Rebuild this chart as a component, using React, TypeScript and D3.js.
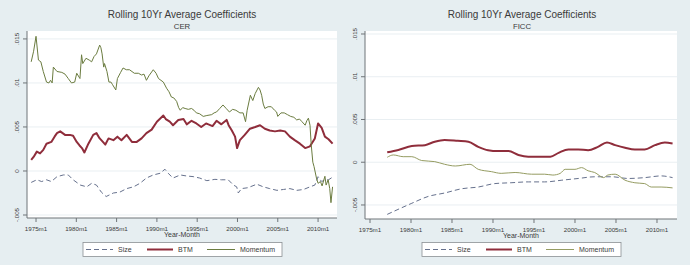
import React from "react";
import * as d3 from "d3";

// ---- shared axis labels ----
const xTickYears = [1975, 1980, 1985, 1990, 1995, 2000, 2005, 2010];
const xTickLabels = ["1975m1", "1980m1", "1985m1", "1990m1", "1995m1", "2000m1", "2005m1", "2010m1"];
const yTickValues = [-0.005, 0, 0.005, 0.01, 0.015];
const yTickLabels = ["-.005", "0", ".005", ".01", ".015"];
const seriesNames = ["Size", "BTM", "Momentum"];
const chartTitle = "Rolling 10Yr Average Coefficients";
const panelNames = ["CER", "FICC"];
const xAxisTitle = "Year-Month";

// ---- CER panel (decimal year, coefficient) ----
const cerSizeDates = [1974.4, 1975.1, 1975.7, 1976.3, 1976.9, 1977.6, 1978.4, 1979.0, 1979.6, 1980.5, 1981.3, 1981.9, 1982.5, 1983.1, 1983.7, 1984.6, 1985.4, 1986.25, 1987.1, 1987.9, 1988.7, 1989.55, 1990.4, 1991.0, 1991.4, 1992.0, 1992.9, 1993.7, 1994.5, 1995.3, 1996.2, 1997.2, 1998.0, 1998.85, 1999.5, 1999.9, 2000.1, 2000.5, 2001.3, 2002.4, 2003.2, 2004.0, 2004.9, 2005.7, 2006.5, 2007.35, 2008.2, 2009.0, 2009.6, 2010.0, 2010.45, 2010.85, 2011.3, 2011.8];
const cerSizeValues = [-0.0013, -0.001, -0.0012, -0.001, -0.0012, -0.00065, -0.00045, -0.00045, -0.001, -0.0016, -0.0018, -0.0014, -0.0016, -0.0024, -0.0029, -0.0025, -0.0024, -0.002, -0.0018, -0.0014, -0.0008, -0.00045, -0.00026, 0.0002, -0.00026, -0.0008, -0.00045, -0.00057, -0.00064, -0.0008, -0.0011, -0.00095, -0.001, -0.001, -0.0016, -0.0018, -0.0025, -0.002, -0.0019, -0.0015, -0.0018, -0.002, -0.0022, -0.0021, -0.002, -0.0022, -0.0021, -0.0018, -0.0016, -0.00065, -0.0012, -0.001, -0.001, -0.0007];

const cerBtmDates = [1974.4, 1974.7, 1975.1, 1975.5, 1975.9, 1976.3, 1976.9, 1977.3, 1977.6, 1978.0, 1978.6, 1979.2, 1979.6, 1980.05, 1980.4, 1980.7, 1981.0, 1981.5, 1982.1, 1982.5, 1982.9, 1983.3, 1983.6, 1984.0, 1984.6, 1985.1, 1985.6, 1986.25, 1986.9, 1987.5, 1988.1, 1988.7, 1989.35, 1990.0, 1990.8, 1991.1, 1991.6, 1992.0, 1992.65, 1993.3, 1993.7, 1994.3, 1994.9, 1995.5, 1996.1, 1996.9, 1997.4, 1998.0, 1998.65, 1998.9, 1999.3, 1999.7, 1999.95, 2000.3, 2000.9, 2001.55, 2002.2, 2002.8, 2003.4, 2004.0, 2004.65, 2005.3, 2005.9, 2006.5, 2007.1, 2007.75, 2008.4, 2009.0, 2009.6, 2010.0, 2010.45, 2010.85, 2011.3, 2011.8];
const cerBtmValues = [0.00125, 0.0016, 0.0022, 0.002, 0.0024, 0.0031, 0.0033, 0.0039, 0.0043, 0.0045, 0.0041, 0.0041, 0.004, 0.0033, 0.0029, 0.0026, 0.0021, 0.0031, 0.0041, 0.0043, 0.0037, 0.0033, 0.003, 0.0037, 0.0035, 0.0039, 0.0035, 0.0041, 0.0033, 0.0033, 0.0037, 0.0043, 0.0047, 0.0056, 0.0063, 0.0059, 0.0056, 0.0052, 0.0058, 0.0059, 0.0053, 0.0057, 0.0054, 0.005, 0.0054, 0.0051, 0.0057, 0.0053, 0.0058, 0.0052, 0.0046, 0.0039, 0.0026, 0.0035, 0.0041, 0.0048, 0.005, 0.0052, 0.0048, 0.0046, 0.0045, 0.0046, 0.0045, 0.0039, 0.0035, 0.0031, 0.0026, 0.0028, 0.0037, 0.0054, 0.0049, 0.0039, 0.0036, 0.0031];

const cerMomDates = [1974.4, 1974.7, 1975.0, 1975.3, 1975.6, 1975.9, 1976.3, 1976.6, 1976.8, 1977.0, 1977.15, 1977.6, 1978.2, 1978.6, 1979.0, 1979.4, 1979.8, 1980.05, 1980.45, 1980.65, 1980.8, 1981.2, 1981.6, 1981.9, 1982.2, 1982.5, 1982.9, 1983.05, 1983.2, 1983.4, 1983.5, 1983.8, 1984.05, 1984.3, 1984.5, 1984.9, 1985.1, 1985.5, 1985.8, 1986.2, 1986.6, 1987.2, 1987.7, 1988.1, 1988.4, 1988.7, 1989.0, 1989.55, 1989.9, 1990.2, 1990.8, 1991.2, 1991.5, 1991.8, 1992.1, 1992.45, 1992.7, 1992.9, 1993.2, 1993.5, 1993.9, 1994.3, 1994.6, 1994.9, 1995.3, 1995.75, 1996.2, 1996.8, 1997.1, 1997.4, 1997.8, 1998.2, 1998.6, 1999.0, 1999.4, 1999.8, 2000.3, 2000.7, 2001.0, 2001.2, 2001.6, 2001.9, 2002.2, 2002.6, 2002.8, 2003.0, 2003.2, 2003.4, 2003.8, 2004.2, 2004.6, 2004.85, 2005.0, 2005.4, 2005.8, 2006.2, 2006.6, 2007.0, 2007.35, 2007.7, 2008.0, 2008.4, 2008.6, 2008.8, 2009.0, 2009.15, 2009.35, 2009.5, 2009.8, 2010.0, 2010.3, 2010.5, 2010.85, 2011.0, 2011.25, 2011.45, 2011.6, 2011.8];
const cerMomValues = [0.0124, 0.0136, 0.0153, 0.0126, 0.0124, 0.0113, 0.0101, 0.01, 0.0103, 0.01, 0.0118, 0.0113, 0.0112, 0.011, 0.0105, 0.01, 0.0101, 0.0111, 0.0105, 0.0132, 0.0122, 0.0128, 0.0126, 0.0124, 0.013, 0.0133, 0.0143, 0.014, 0.0133, 0.0118, 0.0122, 0.0113, 0.0101, 0.0101, 0.0098, 0.0092, 0.0105, 0.0112, 0.0117, 0.0115, 0.0115, 0.0111, 0.0111, 0.0109, 0.011, 0.0103, 0.0108, 0.0115, 0.0111, 0.0105, 0.0101, 0.0094, 0.009, 0.0084, 0.0083, 0.0079, 0.0072, 0.0069, 0.0072, 0.0071, 0.007, 0.0071, 0.0069, 0.0066, 0.0065, 0.0062, 0.0063, 0.0064, 0.0066, 0.0067, 0.0071, 0.0075, 0.0071, 0.0067, 0.007, 0.0069, 0.0066, 0.0066, 0.0056, 0.0069, 0.0086, 0.008, 0.0088, 0.0095, 0.0092, 0.0086, 0.0076, 0.0071, 0.0073, 0.0073, 0.0069, 0.0067, 0.0062, 0.0066, 0.0066, 0.0064, 0.0062, 0.0061, 0.0058, 0.0059, 0.0056, 0.0052, 0.0057, 0.006, 0.0052, 0.003, 0.001, 0.0005, -0.0008, -0.0014, -0.0012, -0.0017, -0.0006, -0.0016, -0.001, -0.002, -0.0036, -0.0018];

// ---- FICC panel ----
const ficcSizeDates = [1977.1, 1980.1, 1982.1, 1984.1, 1986.2, 1988.2, 1990.2, 1992.2, 1994.3, 1996.3, 1998.4, 2000.4, 2002.4, 2004.5, 2006.5, 2008.5, 2010.5, 2011.9];
const ficcSizeValues = [-0.0061, -0.0048, -0.004, -0.0036, -0.0031, -0.0029, -0.0025, -0.0024, -0.0023, -0.0023, -0.0021, -0.0019, -0.0017, -0.0017, -0.0019, -0.0018, -0.0016, -0.0018];

const ficcBtmDates = [1977.1, 1978.45, 1980.1, 1981.7, 1982.9, 1984.1, 1985.7, 1987.0, 1988.2, 1989.4, 1990.6, 1991.9, 1993.1, 1994.3, 1995.95, 1997.0, 1998.0, 1999.2, 2000.4, 2001.6, 2002.8, 2003.9, 2004.9, 2006.1, 2007.3, 2008.5, 2009.75, 2010.95, 2011.9];
const ficcBtmValues = [0.00116, 0.00143, 0.0019, 0.002, 0.0024, 0.0026, 0.0025, 0.0024, 0.0018, 0.0014, 0.0013, 0.0013, 0.00085, 0.00065, 0.00065, 0.00065, 0.0011, 0.0015, 0.0015, 0.0014, 0.0018, 0.0023, 0.002, 0.0017, 0.0015, 0.0015, 0.002, 0.0023, 0.0022];

const ficcMomDates = [1977.1, 1977.85, 1979.05, 1980.1, 1981.3, 1982.9, 1984.1, 1985.4, 1987.2, 1988.2, 1989.8, 1991.0, 1992.7, 1994.7, 1996.3, 1997.3, 1998.2, 1998.8, 2000.0, 2000.8, 2001.6, 2002.4, 2003.5, 2004.0, 2004.9, 2006.1, 2007.3, 2008.5, 2009.3, 2010.5, 2011.9];
const ficcMomValues = [0.00058, 0.00085, 0.00065, 0.00065, 0.0002, 0.00007, -0.00024, -0.00044, -0.00024, -0.00083, -0.0011, -0.0013, -0.0012, -0.0014, -0.0014, -0.0015, -0.0013, -0.00083, -0.00083, -0.00063, -0.001, -0.0012, -0.0018, -0.0015, -0.0014, -0.0021, -0.0024, -0.0025, -0.0029, -0.0029, -0.003];

const zip = (xs: number[], ys: number[]) => xs.map((x, i) => [x, ys[i]] as [number, number]);

const BG = "#e6eef1";
const GRID = "#e9eff2";
const AXIS = "#6f7478";
const TEXT = "#3a3a3a";
const FONT = "'Liberation Sans', Arial, sans-serif";
const SIZE_COLOR = "#66718d";
const BTM_COLOR = "#8f2d3b";

type PanelProps = {
  subtitle: string;
  left: number;
  right: number;
  top: number;
  bottom: number;
  xDomain: [number, number];
  yDomain: [number, number];
  centerX: number;
  size: [number, number][];
  btm: [number, number][];
  mom: [number, number][];
  momColor: string;
  curve: d3.CurveFactory;
  legendX: number;
};

function Panel(p: PanelProps) {
  const x = d3.scaleLinear().domain(p.xDomain).range([p.left, p.right]);
  const y = d3.scaleLinear().domain(p.yDomain).range([p.bottom, p.top]);
  const line = d3
    .line<[number, number]>()
    .x((d) => x(d[0]))
    .y((d) => y(d[1]))
    .curve(p.curve);

  const legendY = 249.5;
  const lx = p.legendX;
  const legendItems = [
    { name: seriesNames[0], x0: 3, x1: 30, tx: 35, stroke: SIZE_COLOR, w: 1, dash: "5,3" },
    { name: seriesNames[1], x0: 64, x1: 90, tx: 95, stroke: BTM_COLOR, w: 2, dash: undefined },
    { name: seriesNames[2], x0: 124, x1: 152, tx: 157, stroke: p.momColor, w: 1, dash: undefined },
  ];

  return (
    <g>
      <text x={p.centerX} y={18} textAnchor="middle" fontFamily={FONT} fontSize={10} fill={TEXT}>
        {chartTitle}
      </text>
      <text x={p.centerX} y={29} textAnchor="middle" fontFamily={FONT} fontSize={7.8} fill={TEXT}>
        {p.subtitle}
      </text>
      <rect x={p.left} y={p.top} width={p.right - p.left} height={p.bottom - p.top} fill="#ffffff" />
      {yTickValues.map((v) => (
        <line key={"g" + v} x1={p.left} x2={p.right} y1={y(v)} y2={y(v)} stroke={GRID} strokeWidth={1} />
      ))}
      <path d={line(p.size) || ""} fill="none" stroke={SIZE_COLOR} strokeWidth={1} strokeDasharray="5,3" />
      <path d={line(p.btm) || ""} fill="none" stroke={BTM_COLOR} strokeWidth={2} strokeLinejoin="round" />
      <path d={line(p.mom) || ""} fill="none" stroke={p.momColor} strokeWidth={1} strokeLinejoin="round" />
      <line x1={p.left} x2={p.left} y1={p.top} y2={p.bottom} stroke={AXIS} strokeWidth={1} />
      <line x1={p.left} x2={p.right} y1={p.bottom} y2={p.bottom} stroke={AXIS} strokeWidth={1} />
      {yTickValues.map((v, i) => (
        <g key={"y" + v}>
          <line x1={p.left - 4} x2={p.left} y1={y(v)} y2={y(v)} stroke={AXIS} strokeWidth={1} />
          <text
            transform={`translate(${p.left - 8},${y(v)}) rotate(-90)`}
            textAnchor="middle"
            fontFamily={FONT}
            fontSize={6.2}
            fill={TEXT}
          >
            {yTickLabels[i]}
          </text>
        </g>
      ))}
      {xTickYears.map((t, i) => (
        <g key={"x" + t}>
          <line x1={x(t)} x2={x(t)} y1={p.bottom} y2={p.bottom + 4} stroke={AXIS} strokeWidth={1} />
          <text x={x(t)} y={p.bottom + 12.5} textAnchor="middle" fontFamily={FONT} fontSize={6.2} fill={TEXT}>
            {xTickLabels[i]}
          </text>
        </g>
      ))}
      <text x={(p.left + p.right) / 2} y={p.bottom + 19} textAnchor="middle" fontFamily={FONT} fontSize={7} fill={TEXT}>
        {xAxisTitle}
      </text>
      <rect x={lx} y={242.5} width={199} height={14} fill="#ffffff" stroke="#8a8f93" strokeWidth={0.8} />
      {legendItems.map((it) => (
        <g key={it.name}>
          <line
            x1={lx + it.x0}
            x2={lx + it.x1}
            y1={legendY}
            y2={legendY}
            stroke={it.stroke}
            strokeWidth={it.w}
            strokeDasharray={it.dash}
          />
          <text x={lx + it.tx} y={legendY + 2.5} fontFamily={FONT} fontSize={7} fill={TEXT}>
            {it.name}
          </text>
        </g>
      ))}
    </g>
  );
}

export default function App() {
  return (
    <svg
      width={690}
      height={265}
      style={{ position: "absolute", left: 0, top: 0, display: "block" }}
      xmlns="http://www.w3.org/2000/svg"
    >
      <rect x={0} y={0} width={690} height={265} fill={BG} />
      <Panel
        subtitle={panelNames[0]}
        left={27}
        right={337}
        top={31}
        bottom={218}
        xDomain={[1973.88, 2012.35]}
        yDomain={[-0.00534, 0.0159]}
        centerX={182}
        size={zip(cerSizeDates, cerSizeValues)}
        btm={zip(cerBtmDates, cerBtmValues)}
        mom={zip(cerMomDates, cerMomValues)}
        momColor="#6b7c40"
        curve={d3.curveLinear}
        legendX={83}
      />
      <Panel
        subtitle={panelNames[1]}
        left={365}
        right={677}
        top={31}
        bottom={219}
        xDomain={[1974.39, 2012.44]}
        yDomain={[-0.00664, 0.01535]}
        centerX={522}
        size={zip(ficcSizeDates, ficcSizeValues)}
        btm={zip(ficcBtmDates, ficcBtmValues)}
        mom={zip(ficcMomDates, ficcMomValues)}
        momColor="#959c62"
        curve={d3.curveMonotoneX}
        legendX={422}
      />
    </svg>
  );
}
